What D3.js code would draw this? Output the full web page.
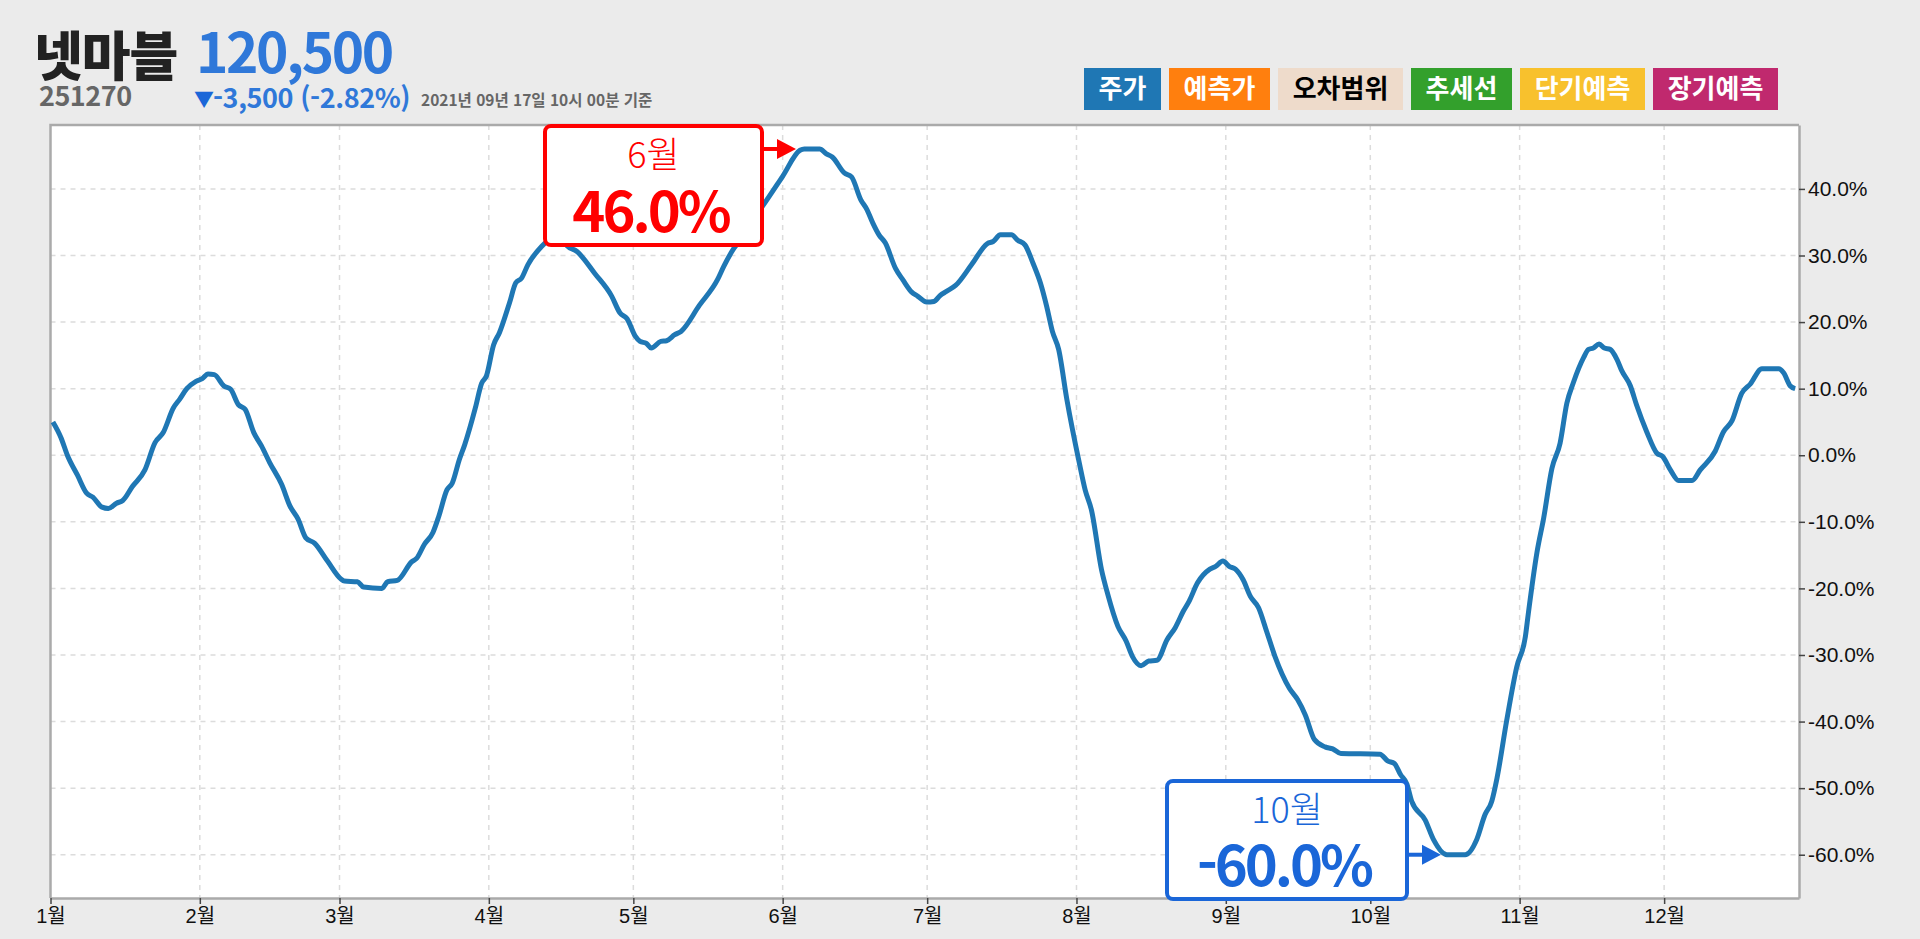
<!DOCTYPE html>
<html lang="ko">
<head>
<meta charset="utf-8">
<title>넷마블</title>
<script src="https://cdn.jsdelivr.net/npm/d3@7"></script>
<style>
  html, body { margin: 0; padding: 0; background: #ebebeb; overflow: hidden; }
  svg { display: block; }
  text { font-family: "Noto Sans CJK KR", "Noto Sans", sans-serif; }
  .axis text { font-family: "Liberation Sans", "Noto Sans CJK KR", sans-serif; fill: #111; }
  .axis path, .axis line { stroke: #aaa; }
  .axis .tick line { stroke: #444; stroke-width: 1.5; }
  .grid line { stroke: #dcdcdc; stroke-width: 1.5; stroke-dasharray: 5 5; }
</style>
</head>
<body>
<div id="root"></div>
<script>
// days since Jan 1 2020 (the ticks fall on a leap year)
const days = [
  0.5, 2.2, 3.5, 5.6, 7.5, 8.8, 10.7, 12, 13.7, 15, 17, 19.6, 21.7, 23.4, 25.5, 26.8, 28.3, 30.2, 31.5, 32.7,
  34, 36, 37.4, 39, 40.4, 42.2, 43.8, 45.5, 48, 49.7, 51.4, 53, 54.8, 57.5, 60.3, 61, 63.7, 65, 68.8, 70, 72,
  75, 76, 77.6, 79.4, 80.6, 82.3, 83.4, 84.9, 86, 88.2, 89.5, 90.5, 92, 93.2, 95.3, 96.6, 97.8, 99.1, 102, 103,
  104.6, 105.8, 107.2, 109.3, 113, 116.5, 118.2, 119.7, 121.4, 122.4, 123.7, 124.7, 126.7, 127.9, 129.6, 130.9, 134.7, 138.5, 139.8, 141.9, 144, 146,
  148.3, 152, 155.6, 156.5, 159.7, 161, 162.3, 164.8, 166.3, 168.2, 169.5, 170.7, 172, 173.3, 175.4, 177, 178.8, 180, 181.9, 183.4, 184.7, 186,
  187.9, 191.2, 194.5, 195.7, 197.2, 199.5, 200.8, 202.3, 204, 205.5, 206.8, 208, 209.3, 211, 213.6, 214.8, 216.1, 218.2, 219.5, 221.6, 223.3, 224.6,
  226.4, 228, 229.7, 231.8, 233.5, 235.2, 236.4, 238.1, 240.7, 241.9, 243.4, 244.7, 246, 247.6, 249.1, 250.8, 252.5, 254.2, 257.2, 258.9, 260.5,
  262.4, 264.6, 266.2, 267.9, 276, 277.6, 279, 280.3, 281.6, 282.6, 285.4, 287.1, 289.9, 293.7, 296.1, 297.8, 299.2, 300.3, 302.3, 304.4,
  306.2, 306.8, 308.6, 310, 311.7, 313.4, 314.8, 316.2, 318.3, 319.3, 320.3, 321.5, 322.6, 323.8, 325.2, 326.2, 328, 329.3, 331.4, 333.5,
  334.7, 336.3, 338, 340.8, 342.5, 345.6, 347.3, 349.1, 351.1, 352.9, 355.3, 358.8, 359.8, 361.2, 362.2
];
const returns = [
  5, 2.6, 0, -3, -5.7, -6.3, -7.8, -8, -7.2, -6.8, -4.7, -2.2, 1.9, 3.4, 7.1, 8.4, 10, 11.1, 11.5, 12.2,
  12.1, 10.4, 9.9, 7.6, 6.9, 3.4, 1.4, -1.1, -4.4, -7.6, -9.6, -12.4, -13.2, -15.9, -18.6, -18.9, -19, -19.8, -20, -19, -18.8,
  -16, -15.5, -13.4, -11.6, -9.2, -5.2, -4.2, -0.6, 1.6, 7.1, 10.8, 11.9, 16.6, 18.4, 22.9, 25.9, 26.6, 28.6, 31.4, 32.1,
  33, 33, 31.5, 30.6, 27.3, 23.9, 21.4, 20.5, 17.9, 17.1, 16.8, 16.1, 17.1, 17.2, 18.1, 18.6, 22.5, 26.4, 28.4, 31.1, 33, 35.5,
  37.9, 41.9, 45.8, 46, 46, 45.3, 44.8, 42.4, 41.8, 38.4, 36.9, 34.9, 33.1, 31.9, 28.1, 26.3, 24.5, 23.9, 23, 23.1, 24, 24.6,
  25.5, 28.6, 31.8, 32.1, 33.1, 33.1, 32.3, 31.6, 28.8, 25.9, 22.4, 18.6, 15.9, 8.4, -1.2, -5.2, -8.2, -17.2, -20.9, -25.7, -27.9, -30.2,
  -31.6, -30.9, -30.8, -27.7, -25.9, -23.4, -21.9, -19.2, -17.1, -16.7, -15.9, -16.7, -17.1, -18.7, -21.2, -22.9, -26.5, -30.2, -35, -36.7, -39,
  -42.7, -43.8, -44.1, -44.8, -44.9, -45.9, -46.3, -48, -49.4, -52, -54.8, -57.7, -60, -60, -57.7, -54, -52, -48.5, -39.9, -31.8,
  -27.2, -23.8, -14.6, -9.4, -2, 1.8, 7.8, 11, 14.7, 15.9, 16.1, 16.7, 16.1, 15.9, 14.4, 12.7, 10.4, 7.5, 3.5, 0.3,
  -0.2, -2.2, -3.8, -3.8, -2.2, 0.6, 3.5, 5.2, 9.3, 10.7, 13, 13, 12.4, 10.4, 10
];
const monthStarts = [0, 31, 60, 91, 121, 152, 182, 213, 244, 274, 305, 335];
const monthLabels = ['1월', '2월', '3월', '4월', '5월', '6월', '7월', '8월', '9월', '10월', '11월', '12월'];
const yTicks = [40, 30, 20, 10, 0, -10, -20, -30, -40, -50, -60];
const legendLabels = ['주가', '예측가', '오차범위', '추세선', '단기예측', '장기예측'];
const legendColors = ['#1f77b4', '#ff7f0e', '#eedbcb', '#33a02c', '#f8c12d', '#c0296e'];
const legendTextColors = ['#fff', '#fff', '#000', '#fff', '#fff', '#fff'];
const xDomain = [0, 363];
const yDomain = [-66.5, 49.6];

const width = 1920;
const height = 939;

// plot area edges
const plot = { left: 50.5, right: 1799, top: 125, bottom: 898 };

const x = d3.scaleLinear().domain(xDomain).range([plot.left, plot.right]);
const y = d3.scaleLinear().domain(yDomain).range([plot.bottom, plot.top]);

const svg = d3.select('#root').append('svg')
  .attr('width', width)
  .attr('height', height);

function renderHeader() {
  const addText = (str, tx, ty, size, weight, color, spacing) =>
    svg.append('text')
      .attr('x', tx)
      .attr('y', ty)
      .attr('font-size', size)
      .attr('font-weight', weight)
      .attr('fill', color)
      .attr('letter-spacing', spacing || 0)
      .text(str);

  addText('넷마블', 34, 76, 53, 900, '#222', -1);
  addText('120,500', 196, 73, 55, 700, '#2f78d9', -2.4);
  addText('251270', 39, 106, 27, 700, '#666', -0.5);
  addText('▼', 194, 107, 20, 400, '#1a66d8');
  addText('-3,500 (-2.82%)', 213, 108, 27, 700, '#2f78d9', -0.4);
  addText('2021년 09년 17일 10시 00분 기준', 421, 106, 15.5, 700, '#666', 0);
}

function renderLegend() {
  let cursor = 1084;
  legendLabels.forEach((label, i) => {
    const w = label.length * 24 + 29;
    svg.append('rect')
      .attr('x', cursor)
      .attr('y', 68)
      .attr('width', w)
      .attr('height', 42)
      .attr('fill', legendColors[i]);
    svg.append('text')
      .attr('x', cursor + w / 2)
      .attr('y', 98)
      .attr('text-anchor', 'middle')
      .attr('font-size', 26)
      .attr('font-weight', 700)
      .attr('fill', legendTextColors[i])
      .text(label);
    cursor += w + 8;
  });
}

function renderChart() {
  svg.append('rect')
    .attr('x', plot.left)
    .attr('y', plot.top)
    .attr('width', plot.right - plot.left)
    .attr('height', plot.bottom - plot.top)
    .attr('fill', '#fff');

  // grid
  const grid = svg.append('g').attr('class', 'grid');
  grid.selectAll('.v')
    .data(monthStarts.slice(1))
    .enter()
    .append('line')
    .attr('x1', d => x(d))
    .attr('x2', d => x(d))
    .attr('y1', plot.top)
    .attr('y2', plot.bottom);
  grid.selectAll('.h')
    .data(yTicks)
    .enter()
    .append('line')
    .attr('x1', plot.left)
    .attr('x2', plot.right)
    .attr('y1', d => y(d))
    .attr('y2', d => y(d));

  // border top and left, the axes give the other two sides
  svg.append('path')
    .attr('d', `M${plot.left},${plot.bottom}V${plot.top}H${plot.right}`)
    .attr('fill', 'none')
    .attr('stroke', '#aaa')
    .attr('stroke-width', 2.5);

  const line = d3.line()
    .x((d, i) => x(days[i]))
    .y(d => y(d))
    .curve(d3.curveMonotoneX);

  svg.append('path')
    .datum(returns)
    .attr('d', line)
    .attr('fill', 'none')
    .attr('stroke', '#1f77b4')
    .attr('stroke-width', 5)
    .attr('stroke-linejoin', 'round');

  const xAxis = d3.axisBottom(x)
    .tickValues(monthStarts)
    .tickFormat((d, i) => monthLabels[i])
    .tickSize(6)
    .tickSizeOuter(0)
    .tickPadding(5);
  const xG = svg.append('g')
    .attr('class', 'axis')
    .attr('transform', `translate(0,${plot.bottom})`)
    .call(xAxis);
  xG.select('.domain').attr('stroke-width', 2.5);
  xG.selectAll('text').attr('font-size', 20);

  const yAxis = d3.axisRight(y)
    .tickValues(yTicks)
    .tickFormat(d => d.toFixed(1) + '%')
    .tickSize(6)
    .tickSizeOuter(0)
    .tickPadding(3);
  const yG = svg.append('g')
    .attr('class', 'axis')
    .attr('transform', `translate(${plot.right},0)`)
    .call(yAxis);
  yG.select('.domain').attr('stroke-width', 2.5);
  yG.selectAll('text').attr('font-size', 21);
}

function renderCallout(box, color, month, value, tipX) {
  const tipY = y(value);

  svg.append('line')
    .attr('x1', box.x + box.w)
    .attr('x2', tipX - 18)
    .attr('y1', tipY)
    .attr('y2', tipY)
    .attr('stroke', color)
    .attr('stroke-width', 4);
  svg.append('path')
    .attr('d', `M${tipX},${tipY}L${tipX - 19},${tipY - 10}V${tipY + 10}Z`)
    .attr('fill', color);

  svg.append('rect')
    .attr('x', box.x)
    .attr('y', box.y)
    .attr('width', box.w)
    .attr('height', box.h)
    .attr('rx', 6)
    .attr('fill', '#fff')
    .attr('stroke', color)
    .attr('stroke-width', 4);

  svg.append('text')
    .attr('x', box.x + box.w / 2)
    .attr('y', box.y + 42)
    .attr('text-anchor', 'middle')
    .attr('font-size', 36)
    .attr('font-weight', 300)
    .attr('fill', color)
    .text(month);
  svg.append('text')
    .attr('x', box.x + box.w / 2 - 3)
    .attr('y', box.y + box.h - 13)
    .attr('text-anchor', 'middle')
    .attr('font-size', 56)
    .attr('font-weight', 700)
    .attr('letter-spacing', -3)
    .attr('fill', color)
    .text(value.toFixed(1) + '%');
}

function render() {
  renderHeader();
  renderLegend();
  renderChart();
  renderCallout({ x: 545, y: 126, w: 217, h: 119 }, '#ff0000', monthLabels[5], d3.max(returns), 796);
  renderCallout({ x: 1167, y: 781, w: 240, h: 118 }, '#1a66d8', monthLabels[9], d3.min(returns), 1441);
}

render();
</script>
</body>
</html>
